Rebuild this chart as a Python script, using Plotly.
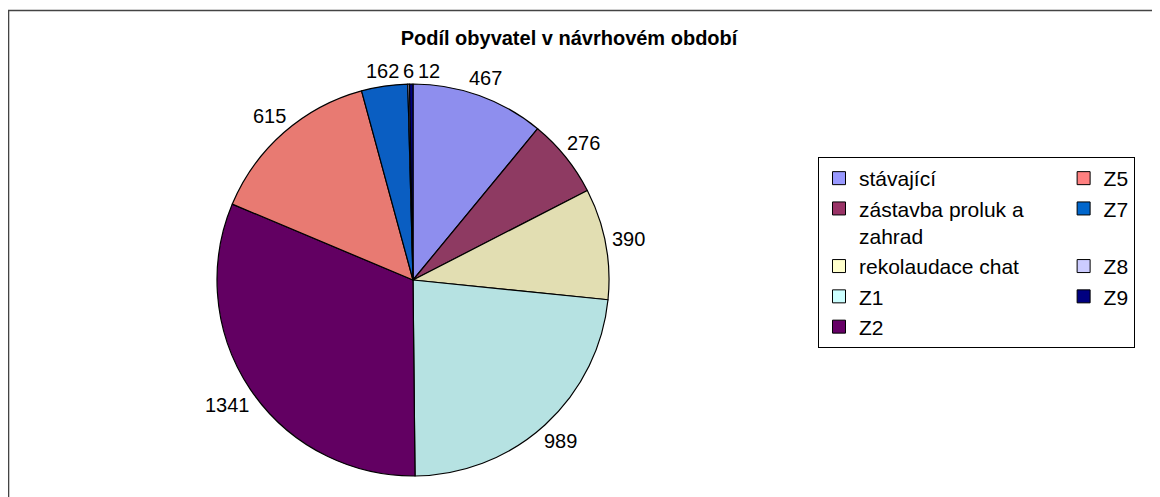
import math
import plotly.graph_objects as go

W, H = 1160, 497
OFF = 8  # default page margin of the html body
ML, MR, MT, MB = 0, 400, 0, 0
GW = W - ML - MR
GH = H - MT - MB

def px_x(p):
    return (p - OFF - ML) / GW

def px_y(p):
    return 1 - (p - OFF - MT) / GH

title = "Podíl obyvatel v návrhovém období"
labels = ["stávající", "zástavba proluk a zahrad", "rekolaudace chat", "Z1", "Z2", "Z5", "Z7", "Z8", "Z9"]
values = [467, 276, 390, 989, 1341, 615, 162, 6, 12]
slice_colors = ["#8E8EEE", "#8E3A62", "#E2DEB2", "#B6E2E2", "#620062", "#E87A72", "#0A5EC2", "#C4C4F4", "#000080"]
legend_colors = ["#9999FF", "#993366", "#FFFFCC", "#CCFFFF", "#660066", "#FF8080", "#0066CC", "#CCCCFF", "#000080"]
legend_names = ["stávající", "zástavba proluk a" + "&nbsp;" * 6 + "<br>zahrad", "rekolaudace chat",
                "Z1", "Z2", "Z5", "Z7", "Z8", "Z9"]
# legend drawn row by row: left column = first five, right column = last four
legend_order = [0, 5, 1, 6, 2, 7, 3, 8, 4]

font_family = "Liberation Sans, Arial, sans-serif"
label_size = 20

# pie geometry (pixels)
CX, CY, R = 413, 280, 196

fig = go.Figure()
fig.add_trace(go.Pie(
    labels=labels, values=values, sort=False, direction="clockwise", rotation=0,
    marker=dict(colors=slice_colors, line=dict(color="#000000", width=1.2)),
    textinfo="none",
    showlegend=False, hoverinfo="label+value+percent",
    domain=dict(x=[px_x(CX - R), px_x(CX + R)], y=[px_y(CY + R), px_y(CY - R)]),
))

# value labels just outside each slice, centred on the slice mid-angle direction
total = float(sum(values))
cum = 0.0
placed = []
half_h = 8.0
gap = 5.0
for v in values:
    mid = (cum + v / 2.0) / total * 2 * math.pi
    cum += v
    s, c = math.sin(mid), math.cos(mid)
    txt = str(v)
    half_w = len(txt) * 0.556 * label_size / 2
    rr = R + abs(s) * half_w + abs(c) * half_h + gap
    x = CX + rr * s
    y = CY - rr * c
    placed.append([x, y, txt, half_w, s, c])

# avoid overlap for labels of the thin slices at the top
top = [p for p in placed if abs(p[4]) < 0.35 and p[5] > 0]
top.sort(key=lambda p: p[0])
for a, b in zip(top, top[1:]):
    a_right = a[0] + a[3]
    if b[0] - b[3] < a_right + 4:
        b[0] = a_right + 4 + b[3]

for x, y, txt, hw, s, c in placed:
    fig.add_annotation(x=px_x(x), y=px_y(y), xref="paper", yref="paper",
                       text=txt, showarrow=False, xanchor="center", yanchor="middle",
                       font=dict(family=font_family, size=label_size, color="#000000"))

for i in legend_order:
    fig.add_trace(go.Scatter(
        x=[None], y=[None], mode="markers", name=legend_names[i],
        marker=dict(symbol="square", size=13, color=legend_colors[i],
                    line=dict(color="#000000", width=1)),
        hoverinfo="skip",
    ))

fig.add_shape(type="rect", xref="paper", yref="paper",
              x0=px_x(8.5), x1=px_x(1185), y0=px_y(520), y1=px_y(10.5),
              line=dict(color="#444444", width=1.6), fillcolor="rgba(0,0,0,0)", layer="below")

fig.update_layout(
    width=W, height=H,
    margin=dict(l=ML, r=MR, t=MT, b=MB, autoexpand=False),
    paper_bgcolor="#FFFFFF", plot_bgcolor="#FFFFFF",
    font=dict(family=font_family, color="#000000"),
    title=dict(text="<b>" + title + "</b>", x=(569 - OFF) / W, xanchor="center",
               y=1 - (38 - OFF) / H, yanchor="middle",
               font=dict(family=font_family, size=20, color="#000000")),
    xaxis=dict(visible=False), yaxis=dict(visible=False),
    legend=dict(orientation="h", x=px_x(818), y=px_y(157), xanchor="left", yanchor="top",
                bordercolor="#000000", borderwidth=1, bgcolor="#FFFFFF",
                font=dict(family=font_family, size=21, color="#000000"),
                valign="top", maxheight=420, itemclick=False, itemdoubleclick=False),
)

fig.write_html("out.html")
